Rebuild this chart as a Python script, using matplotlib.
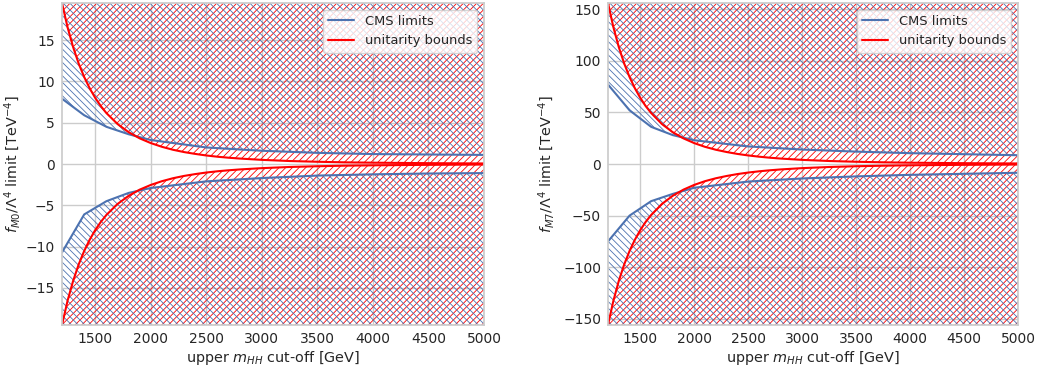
import matplotlib
matplotlib.use("Agg")
import matplotlib.pyplot as plt
import seaborn as sns

sns.set_theme(style="whitegrid")
plt.rcParams["hatch.linewidth"] = 0.6

# CMS limits (upper / lower) vs. m_HH cut-off
cms_mass = [1200, 1400, 1600, 1800, 2000, 2500, 3000, 3500, 4000, 4500, 5000]
cms_m0_upper = [7.9, 5.9, 4.5, 3.6, 2.9, 2.0, 1.6, 1.35, 1.2, 1.15, 1.1]
cms_m0_lower = [-10.7, -6.1, -4.5, -3.5, -2.9, -2.1, -1.7, -1.4, -1.25, -1.15, -1.1]
cms_m7_upper = [77, 52, 36, 28, 23, 17, 14, 12, 10.5, 9.5, 8.5]
cms_m7_lower = [-75, -50, -36, -29, -23, -17, -14, -12, -10.5, -9.5, -8.5]

# unitarity bounds vs. m_HH cut-off
uni_mass = [1200, 1250, 1300, 1350, 1400, 1450, 1500, 1550, 1600, 1700, 1800,
            1900, 2000, 2100, 2200, 2300, 2400, 2500, 2600, 2700, 2800, 3000,
            3250, 3500, 3750, 4000, 4500, 5000]
uni_m0 = [19.48, 16.55, 14.15, 12.16, 10.52, 9.14, 7.98, 7.00, 6.16, 4.84, 3.85,
          3.10, 2.53, 2.08, 1.72, 1.44, 1.22, 1.03, 0.88, 0.76, 0.66, 0.50,
          0.36, 0.27, 0.20, 0.16, 0.10, 0.065]
uni_m7 = [156, 132.5, 113.3, 97.4, 84.2, 73.2, 63.9, 56.0, 49.4, 38.7, 30.8,
          24.8, 20.2, 16.6, 13.8, 11.6, 9.75, 8.28, 7.08, 6.09, 5.27, 3.99,
          2.9, 2.16, 1.64, 1.26, 0.79, 0.52]

blue = "#4c72b0"
red = "red"

fig, axes = plt.subplots(1, 2, figsize=(10.39, 3.70), dpi=100)
axes[0].set_position([62 / 1039, 45 / 370, 422 / 1039, 322 / 370])
axes[1].set_position([608 / 1039, 45 / 370, 410 / 1039, 322 / 370])

panels = [
    (axes[0], cms_m0_upper, cms_m0_lower, uni_m0,
     r"$f_{M0}/\Lambda^4$ limit [TeV$^{-4}$]", -0.092),
    (axes[1], cms_m7_upper, cms_m7_lower, uni_m7,
     r"$f_{M7}/\Lambda^4$ limit [TeV$^{-4}$]", -0.124),
]

for ax, cms_up, cms_lo, uni, ylabel, ylab_x in panels:
    ymax = uni[0]
    uni_neg = [-v for v in uni]
    # excluded regions (hatched)
    ax.fill_between(uni_mass, uni, ymax, facecolor="none", edgecolor=red,
                    linewidth=0, hatch="/" * 5)
    ax.fill_between(uni_mass, uni_neg, -ymax, facecolor="none", edgecolor=red,
                    linewidth=0, hatch="/" * 5)
    ax.fill_between(cms_mass, cms_up, ymax, facecolor="none", edgecolor=blue,
                    linewidth=0, hatch="\\" * 5)
    ax.fill_between(cms_mass, cms_lo, -ymax, facecolor="none", edgecolor=blue,
                    linewidth=0, hatch="\\" * 5)
    # boundary lines
    ax.plot(cms_mass, cms_up, color=blue, lw=1.5, label="CMS limits")
    ax.plot(cms_mass, cms_lo, color=blue, lw=1.5)
    ax.plot(uni_mass, uni, color=red, lw=1.5, label="unitarity bounds")
    ax.plot(uni_mass, uni_neg, color=red, lw=1.5)

    ax.set_xlim(1200, 5000)
    ax.set_ylim(-ymax, ymax)
    ax.set_xticks([1500, 2000, 2500, 3000, 3500, 4000, 4500, 5000])
    ax.tick_params(labelsize=10, length=0, pad=5)
    ax.set_xlabel(r"upper $m_{HH}$ cut-off [GeV]", fontsize=10.4)
    ax.set_ylabel(ylabel, fontsize=10.4)
    ax.xaxis.set_label_coords(0.5, -0.076)
    ax.yaxis.set_label_coords(ylab_x, 0.5)
    ax.legend(loc="upper right", fontsize=9.4)

axes[0].set_yticks([-15, -10, -5, 0, 5, 10, 15])
axes[1].set_yticks([-150, -100, -50, 0, 50, 100, 150])

fig.savefig("out.png", dpi=100)
